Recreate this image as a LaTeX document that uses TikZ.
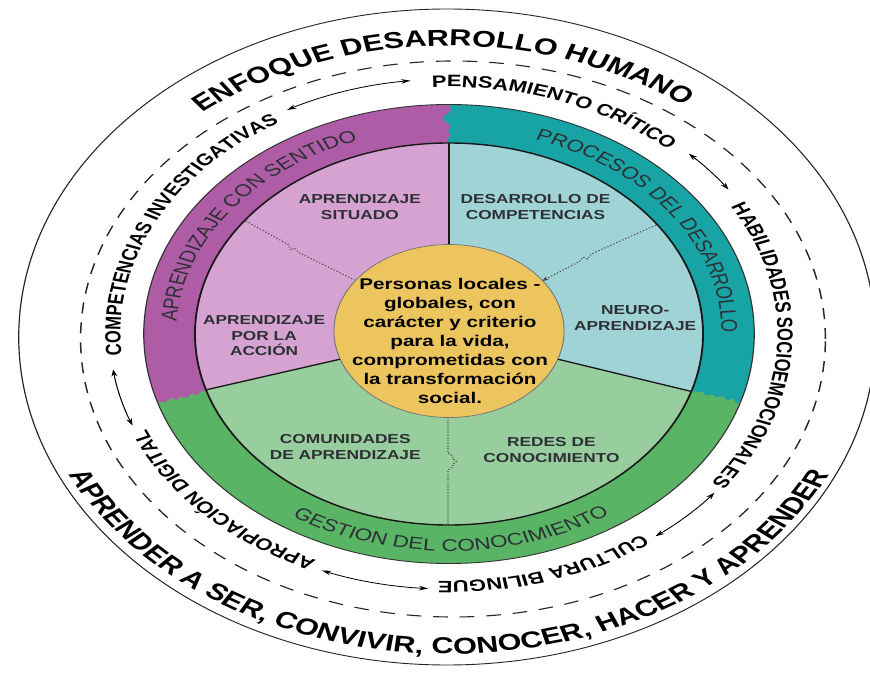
\documentclass[tikz,border=0pt]{standalone}
\usepackage{fontspec}
\setmainfont{Liberation Sans}
\usetikzlibrary{decorations.text,arrows.meta}
\definecolor{ringpurple}{RGB}{174,92,166}
\definecolor{ringteal}{RGB}{24,164,164}
\definecolor{ringgreen}{RGB}{90,180,102}
\definecolor{segpink}{RGB}{214,162,210}
\definecolor{segteal}{RGB}{160,211,214}
\definecolor{seggreen}{RGB}{152,205,157}
\definecolor{coreyellow}{RGB}{236,197,94}
\definecolor{labelgray}{RGB}{45,48,52}
\newcommand\fouter{\fontsize{23}{23}\selectfont\bfseries}
\newcommand\finner{\fontsize{16.5}{16.5}\selectfont\bfseries}
\newcommand\fring{\fontsize{17}{17}\selectfont\color{labelgray}}
\tikzset{
  curvetext/.style={decorate, decoration={text along path, text align=center, text={#1}}},
  twoarrow/.style={line width=0.8pt, {Stealth[length=7pt,width=4.5pt]}-{Stealth[length=7pt,width=4.5pt]}},
  seglabel/.style={font=\fontsize{13}{15.5}\selectfont\bfseries, text=labelgray, align=center, inner sep=0pt},
  dotline/.style={line width=1pt, dash pattern=on 1pt off 1.6pt, draw=black!70},
  segline/.style={line width=1.3pt, draw=black!90},
}
\begin{document}
\begin{tikzpicture}[x=1pt,y=1pt]
\useasboundingbox (-449,-338) rectangle (421,334);
\fill[white] (-449,-338) rectangle (421,334);
\begin{scope}[transform canvas={xscale=1.33}]
  % outer ellipses
  \draw[line width=0.9pt, black!85] (-1.5,-3) ellipse [x radius=322, y radius=328];
  \draw[line width=1.1pt, dash pattern=on 11pt off 9pt, black!85] (3,-5) ellipse [x radius=280, y radius=278];
  % ring band
  \fill[ringteal] (0,0) -- (-18.5:229.5) arc[start angle=-18.5, end angle=91.5, radius=229.5] -- cycle;
  \fill[ringpurple] (0,0) -- (90:191) -- (90.4:195) -- (89.6:199) -- (90.3:203) -- (89.7:207) -- (90.2:211)
      -- (91.3:214) -- (91.0:218) -- (90.1:221) -- (89.6:225) -- (90:229.5)
      arc[start angle=90, end angle=199, radius=229.5] -- cycle;
  \fill[ringgreen] (0,0) -- (197.5:191) -- (197.1:195) -- (197.9:199) -- (197.2:203) -- (198.0:207)
      -- (197.3:211) -- (197.9:215) -- (197.0:219) -- (197.8:223) -- (197.4:227) -- (197.5:229.5)
      arc[start angle=197.5, end angle=342.8, radius=229.5]
      -- (342.3:227) -- (343.1:223) -- (342.4:219) -- (343.2:215) -- (342.5:211) -- (343.0:207)
      -- (342.3:203) -- (343.1:199) -- (342.6:195) -- (342.8:191) -- cycle;
  \draw[line width=0.9pt, black!80] (0,0) circle[radius=229.5];
  % inner segments
  \fill[segpink] (0,0) -- (90:191) arc[start angle=90, end angle=197, radius=191] -- cycle;
  \fill[seggreen] (0,0) -- (197:191) arc[start angle=197, end angle=342.5, radius=191] -- cycle;
  \fill[segteal] (0,0) -- (-17.5:191) arc[start angle=-17.5, end angle=90, radius=191] -- cycle;
  % dotted separators
  \draw[dotline] (143.5:190) -- (-121,89.5) -- (-119,84) -- (-116,86) -- (-113,81.5) -- (-71,54);
  \draw[dotline, -{Stealth[length=5pt,width=4pt]}] (35:190) -- (107,80) -- (104,75) -- (101,77) -- (98,72.5) -- (70,53);
  \draw[dotline] (-0.75,-83) -- (-0.75,-119) -- (3,-122) -- (3,-125) -- (5.5,-127.5) -- (3,-130) -- (3,-133) -- (-0.75,-136) -- (-0.75,-191);
  % core
  \node[circle, minimum size=173pt, inner sep=0pt, fill=coreyellow, draw=black!55, line width=0.7pt] (core) at (0,3) {};
  \draw[line width=1.4pt, black!90] (0,0) circle[radius=191];
  \coordinate (topin) at (90:191);
  \coordinate (leftin) at (197:191);
  \coordinate (rightin) at (-17.5:191);
  \draw[segline] (topin) -- (core.90);
  \draw[segline] (leftin) -- (core.199.5);
  \draw[segline] (rightin) -- (core.-19);
  \node[font=\fontsize{15.5}{19}\selectfont\bfseries, align=center, inner sep=0pt] (coretext) at (0.75,-7)
    {Personas locales -\\globales, con\\carácter y criterio\\para la vida,\\comprometidas con\\la transformación\\social.};
  % segment labels
  \node[seglabel] (sit) at (-67,127) {APRENDIZAJE\\SITUADO};
  \node[seglabel] (comp) at (65,127) {DESARROLLO DE\\COMPETENCIAS};
  \node[seglabel] (acc) at (-139,-2) {APRENDIZAJE\\POR LA\\ACCIÓN};
  \node[seglabel] (neu) at (140,16) {NEURO-\\APRENDIZAJE};
  \node[seglabel] (comu) at (-78,-113) {COMUNIDADES\\DE APRENDIZAJE};
  \node[seglabel] (redes) at (77,-116) {REDES DE\\CONOCIMIENTO};
  % ring labels
  \path[curvetext={|\fring|APRENDIZAJE CON SENTIDO}] (183:205) arc[start angle=183, end angle=103, radius=205];
  \path[curvetext={|\fring|PROCESOS DEL DESARROLLO}] (78:205) arc[start angle=78, end angle=-6, radius=205];
  \path[curvetext={|\fring|GESTION DEL CONOCIMIENTO}] (225:217) arc[start angle=225, end angle=316, radius=217];
  % inner text ring
  \path[curvetext={|\finner|COMPETENCIAS INVESTIGATIVAS}] (198:247) arc[start angle=198, end angle=108, radius=247];
  \path[curvetext={|\finner|PENSAMIENTO CRÍTICO}] (105.5:247) arc[start angle=105.5, end angle=35.5, radius=247];
  \path[curvetext={|\finner|HABILIDADES SOCIOEMOCIONALES}] (42:247) arc[start angle=42, end angle=-48, radius=247];
  \path[curvetext={|\finner|CULTURA BILINGUE}] (-43:247) arc[start angle=-43, end angle=-103, radius=247];
  \path[curvetext={|\finner|APROPIACIÓN DIGITAL}] (-105.5:247) arc[start angle=-105.5, end angle=-165.5, radius=247];
  % arrows
  \coordinate (ar1) at (118.5:255);
  \coordinate (ar2) at (45:255);
  \coordinate (ar3) at (-38.5:255);
  \coordinate (ar4) at (-93.5:255);
  \coordinate (ar5) at (201:255);
  \draw[twoarrow] (ar1) arc[start angle=118.5, end angle=96.5, radius=255];
  \draw[twoarrow] (ar2) arc[start angle=45, end angle=34.5, radius=255];
  \draw[twoarrow] (ar3) arc[start angle=-38.5, end angle=-52.5, radius=255];
  \draw[twoarrow] (ar4) arc[start angle=-93.5, end angle=-112, radius=255];
  \draw[twoarrow] (ar5) arc[start angle=201, end angle=188, radius=255];
  % outer texts
  \path[shift={(0,-2)}, curvetext={|\fouter|ENFOQUE DESARROLLO HUMANO}] (141:290) arc[start angle=141, end angle=41, radius=290];
  \path[shift={(0,-3)}, curvetext={|\fouter|APRENDER A SER, CONVIVIR, CONOCER, HACER Y APRENDER}] (190:317) arc[start angle=190, end angle=350, radius=317];
\end{scope}
\end{tikzpicture}
\end{document}
